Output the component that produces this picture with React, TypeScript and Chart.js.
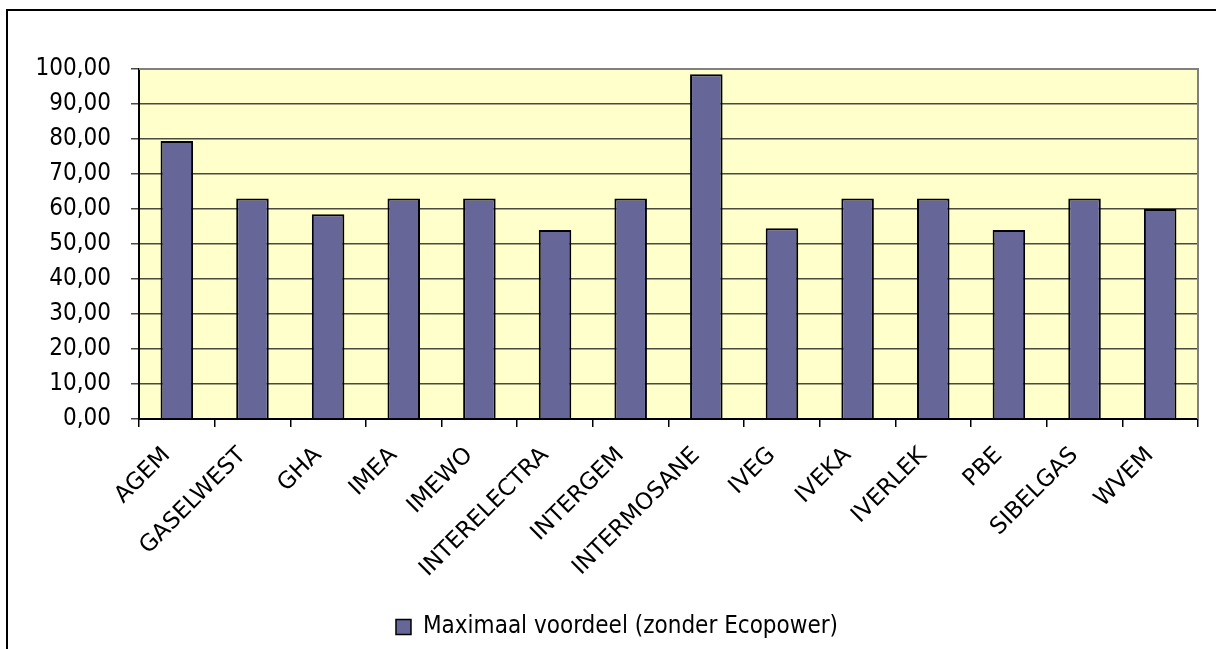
import React, { useEffect, useRef } from "react";
import { Chart, registerables } from "chart.js";

Chart.register(...registerables);

const categories = [
  "AGEM", "GASELWEST", "GHA", "IMEA", "IMEWO", "INTERELECTRA", "INTERGEM",
  "INTERMOSANE", "IVEG", "IVEKA", "IVERLEK", "PBE", "SIBELGAS", "WVEM",
];
const voordeel = [79.4, 63, 58.5, 63, 63, 54, 63, 98.5, 54.5, 63, 63, 54, 63, 60];
const seriesLabel = "Maximaal voordeel (zonder Ecopower)";
const yTicksMin = 0;
const yTicksMax = 100;
const yTicksStep = 10;

const FONT = "'DejaVu Sans Condensed', 'DejaVu Sans', Tahoma, sans-serif";
const FONT_WIDE = "'DejaVu Sans', Tahoma, sans-serif";

const framePlugin = {
  id: "frame",
  beforeDraw(chart: any) {
    const { ctx, chartArea } = chart;
    ctx.save();
    ctx.fillStyle = "#ffffff";
    ctx.fillRect(0, 0, chart.width, chart.height);
    ctx.fillStyle = "#000000";
    ctx.fillRect(6, 9, chart.width - 6, 2);
    ctx.fillRect(6, 9, 2, chart.height - 9);
    ctx.fillStyle = "#FFFFCC";
    ctx.fillRect(chartArea.left, chartArea.top, chartArea.right - chartArea.left, chartArea.bottom - chartArea.top);
    ctx.restore();
  },
  afterDraw(chart: any) {
    const { ctx, chartArea } = chart;
    ctx.save();
    ctx.strokeStyle = "#808080";
    ctx.lineWidth = 2;
    ctx.beginPath();
    ctx.moveTo(chartArea.left, chartArea.top);
    ctx.lineTo(chartArea.right, chartArea.top);
    ctx.lineTo(chartArea.right, chartArea.bottom);
    ctx.stroke();
    ctx.restore();
  },
};

export default function App() {
  const ref = useRef<HTMLCanvasElement | null>(null);
  useEffect(() => {
    if (!ref.current) return;
    const chart = new Chart(ref.current, {
      type: "bar",
      data: {
        labels: categories,
        datasets: [
          {
            label: seriesLabel,
            data: voordeel,
            backgroundColor: "#666699",
            borderColor: "#000000",
            borderWidth: 2,
            barPercentage: 0.43,
            categoryPercentage: 1,
          },
        ],
      },
      options: {
        animation: false,
        responsive: false,
        maintainAspectRatio: false,
        layout: { padding: { top: 69, right: 18, left: 36, bottom: 0 } },
        plugins: {
          tooltip: { enabled: false },
          legend: {
            position: "bottom",
            labels: {
              color: "#000",
              font: { family: FONT, size: 24 },
              boxWidth: 15,
              boxHeight: 15,
              padding: 8,
              generateLabels: () => [
                {
                  text: seriesLabel,
                  fillStyle: "#666699",
                  strokeStyle: "#000",
                  lineWidth: 1.5,
                  datasetIndex: 0,
                },
              ],
            },
          },
        },
        scales: {
          x: {
            grid: {
              offset: true,
              drawOnChartArea: false,
              drawTicks: true,
              tickLength: 8,
              color: "#000",
              lineWidth: 1.5,
            },
            border: { color: "#000", width: 2 },
            ticks: {
              color: "#000",
              font: { family: FONT_WIDE, size: 23 },
              minRotation: 45,
              maxRotation: 45,
              autoSkip: false,
              padding: 15,
              labelOffset: -10,
            },
            afterFit: (scale: any) => {
              scale.height = 188;
            },
          },
          y: {
            min: yTicksMin,
            max: yTicksMax,
            grid: {
              color: "#4a4a40",
              lineWidth: 1.5,
              drawTicks: true,
              tickLength: 8,
            },
            border: { color: "#000", width: 2 },
            ticks: {
              stepSize: yTicksStep,
              color: "#000",
              font: { family: FONT, size: 24 },
              padding: 20,
              callback: (v: any) => Number(v).toFixed(2).replace(".", ","),
            },
            afterFit: (scale: any) => {
              scale.width = 103;
            },
          },
        },
      },
      plugins: [framePlugin],
    });
    return () => chart.destroy();
  }, []);
  return (
    <div style={{ position: "fixed", left: 0, top: 0, width: 1216, height: 649, background: "#fff" }}>
      <canvas ref={ref} width={1216} height={649} style={{ display: "block" }} />
    </div>
  );
}
